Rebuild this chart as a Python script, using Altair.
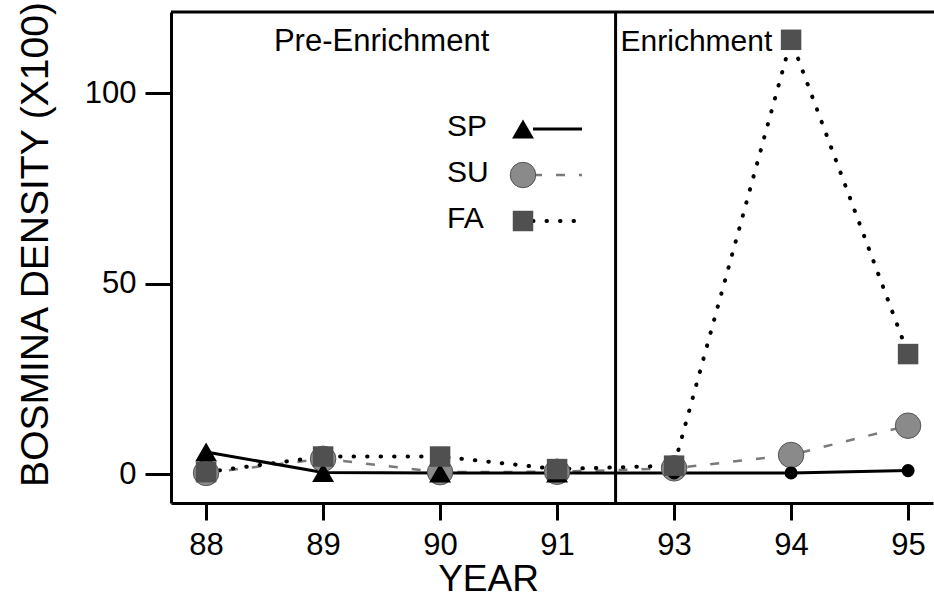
import altair as alt
import pandas as pd

# Bosmina density (x100) by sampling year, per season
years = ["88", "89", "90", "91", "93", "94", "95"]
series = ["SP", "SU", "FA"]
sp = [5.8, 0.4, 0.3, 0.3, 0.3, 0.3, 0.9]
su = [0.3, 4.0, 0.5, 0.6, 1.5, 5.0, 12.7]
fa = [0.5, 4.6, 4.6, 1.3, 2.2, 114.0, 31.5]
phases = ["Pre-Enrichment", "Enrichment"]
first_enriched = years.index("93")
y_ticks = [0, 50, 100]

W, H = 762, 491
X_DOMAIN = [-0.3, 6.213]
Y_DOMAIN = [-7.6, 121.3]

rows = []
for name, vals in zip(series, [sp, su, fa]):
    for i, v in enumerate(vals):
        rows.append({"series": name, "idx": i, "year": years[i], "val": v})
df = pd.DataFrame(rows)

divider = first_enriched - 0.5
label_expr = "[" + ",".join(f"'{y}'" for y in years) + "][datum.value]"

x_enc = alt.X(
    "idx:Q",
    scale=alt.Scale(domain=X_DOMAIN, nice=False, zero=False),
    axis=alt.Axis(
        values=list(range(len(years))), labelExpr=label_expr, title="YEAR",
        grid=False, tickSize=17, labelPadding=10,
        titleFont="Liberation Sans", titleFontSize=37,
        titleX=317, titleY=87, titleBaseline="alphabetic",
    ),
)
y_enc = alt.Y(
    "val:Q",
    scale=alt.Scale(domain=Y_DOMAIN, nice=False, zero=False),
    axis=alt.Axis(
        values=y_ticks, title="BOSMINA DENSITY (X100)", grid=False,
        tickSize=26, labelPadding=9,
        titleFont="Liberation Sans", titleFontSize=39,
        titleX=-124, titleY=232, titleBaseline="alphabetic",
    ),
)

base = alt.Chart(df).encode(x=x_enc, y=y_enc)

def one(name):
    return base.transform_filter(alt.datum.series == name)

# series lines
sp_line = one("SP").mark_line(color="black", strokeWidth=3)
su_line = one("SU").mark_line(color="#7a7a7a", strokeWidth=2.5, strokeDash=[9, 14])
fa_line = one("FA").mark_line(color="black", strokeWidth=4, strokeDash=[0.5, 13],
                              strokeCap="round")

# series markers
su_pts = one("SU").mark_point(shape="circle", filled=True, size=650, color="#8a8a8a",
                              stroke="#555555", strokeWidth=1, opacity=1)
sp_tri = one("SP").transform_filter(alt.datum.idx < divider).mark_point(
    shape="triangle-up", filled=True, size=480, color="black", opacity=1)
sp_dot = one("SP").transform_filter(alt.datum.idx > divider).mark_point(
    shape="circle", filled=True, size=170, color="black", opacity=1)
fa_pts = one("FA").mark_point(shape="square", filled=True, size=420, color="#505050",
                              opacity=1)

# period divider and top frame edge
div_df = pd.DataFrame({"idx": [divider]})
div_rule = alt.Chart(div_df).mark_rule(color="black", strokeWidth=3).encode(
    x=alt.X("idx:Q", scale=alt.Scale(domain=X_DOMAIN, nice=False, zero=False)))
one_row = pd.DataFrame({"k": [0]})
top_edge = alt.Chart(one_row).mark_rule(color="black", strokeWidth=3).encode(
    x=alt.value(0), x2=alt.value(W + 10), y=alt.value(0))

# period labels
pre_df = pd.DataFrame({"idx": [(first_enriched - 1) / 2], "val": [113.5], "label": [phases[0]]})
enr_df = pd.DataFrame({"idx": [divider], "val": [113.5], "label": [phases[1]]})
pre_txt = alt.Chart(pre_df).mark_text(font="Liberation Sans", fontSize=31, color="black",
                                      align="center", baseline="middle").encode(
    x=x_enc, y=y_enc, text="label:N")
enr_txt = alt.Chart(enr_df).mark_text(font="Liberation Sans", fontSize=30, color="black",
                                      align="left", baseline="middle", dx=5).encode(
    x=x_enc, y=y_enc, text="label:N")

# in-plot key: label, marker, line sample
key_layers = []
key_rows = [114, 160, 206]
key_style = {
    "SP": dict(line=dict(color="black", strokeWidth=3),
               pt=dict(shape="triangle-up", size=480, color="black")),
    "SU": dict(line=dict(color="#7a7a7a", strokeWidth=2.5, strokeDash=[9, 14]),
               pt=dict(shape="circle", size=650, color="#8a8a8a", stroke="#555555",
                       strokeWidth=1)),
    "FA": dict(line=dict(color="black", strokeWidth=4, strokeDash=[0.5, 13],
                         strokeCap="round"),
               pt=dict(shape="square", size=420, color="#505050")),
}
for name, yk in zip(series, key_rows):
    st = key_style[name]
    lab = pd.DataFrame({"label": [name]})
    key_layers.append(alt.Chart(lab).mark_text(
        font="Liberation Sans", fontSize=30, color="black", align="left",
        baseline="middle").encode(x=alt.value(276), y=alt.value(yk + 1), text="label:N"))
    key_layers.append(alt.Chart(lab).mark_rule(**st["line"]).encode(
        x=alt.value(362), x2=alt.value(411), y=alt.value(yk + 3)))
    key_layers.append(alt.Chart(lab).mark_point(filled=True, opacity=1, **st["pt"]).encode(
        x=alt.value(352), y=alt.value(yk + 3)))

chart = alt.layer(
    su_line, fa_line, sp_line, div_rule, top_edge,
    su_pts, sp_tri, sp_dot, fa_pts, pre_txt, enr_txt, *key_layers,
).properties(
    width=W, height=H,
    autosize=alt.AutoSizeParams(type="none"),
    padding={"left": 171, "top": 12, "right": 1, "bottom": 105},
    background="white",
).configure_view(stroke=None).configure_axis(
    domainColor="black", domainWidth=3, tickColor="black", tickWidth=3,
    labelColor="black", labelFont="Liberation Sans", labelFontSize=31,
    titleColor="black", titleFontWeight="normal",
)

chart.save("out.html", embed_options={"renderer": "svg", "actions": False})
